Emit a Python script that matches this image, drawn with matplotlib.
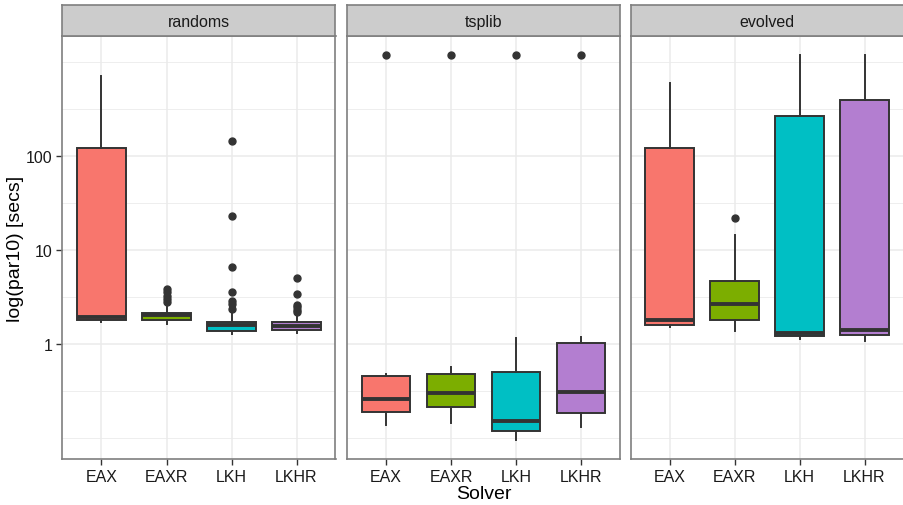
import numpy as np
import matplotlib
matplotlib.use("Agg")
import matplotlib.pyplot as plt

plt.rcParams['font.family'] = ['Liberation Sans', 'DejaVu Sans']

solvers = ["EAX", "EAXR", "LKH", "LKHR"]
panels = ["randoms", "tsplib", "evolved"]
fills = ["#F8766D", "#7CAE00", "#00BFC4", "#B37ED0"]

# box statistics per panel (seconds)
rand_lo  = [1.71, 1.63, 1.28, 1.30]
rand_q1  = [1.81, 1.80, 1.38, 1.41]
rand_med = [1.94, 2.02, 1.59, 1.55]
rand_q3  = [121.6, 2.14, 1.73, 1.70]
rand_hi  = [715.0, 2.5, 2.2, 2.1]
rand_out = [[], [3.85, 3.55, 3.25, 3.0, 2.8],
            [145.0, 23.2, 6.55, 3.55, 2.89, 2.66, 2.36],
            [5.0, 3.4, 2.6, 2.45, 2.3, 2.2]]

tsp_lo  = [0.139, 0.143, 0.096, 0.13]
tsp_q1  = [0.1875, 0.215, 0.12, 0.185]
tsp_med = [0.26, 0.30, 0.15, 0.306]
tsp_q3  = [0.453, 0.48, 0.50, 1.02]
tsp_hi  = [0.48, 0.574, 1.15, 1.18]
tsp_out = [[1196.0], [1196.0], [1196.0], [1196.0]]

evo_lo  = [1.5, 1.39, 1.13, 1.08]
evo_q1  = [1.6, 1.81, 1.23, 1.26]
evo_med = [1.8, 2.66, 1.3, 1.41]
evo_q3  = [121.6, 4.72, 268.0, 391.0]
evo_hi  = [598.0, 14.4, 1186.0, 1186.0]
evo_out = [[], [21.7], [], []]

data = [
    (rand_lo, rand_q1, rand_med, rand_q3, rand_hi, rand_out),
    (tsp_lo, tsp_q1, tsp_med, tsp_q3, tsp_hi, tsp_out),
    (evo_lo, evo_q1, evo_med, evo_q3, evo_hi, evo_out),
]

W, H = 904, 506
fig = plt.figure(figsize=(W / 100, H / 100), dpi=100)

lefts = [62.5, 347.0, 630.5]
pw = 273.0
top, bottom = 37.0, 460.0
strip_top = 6.0
edge = "#333333"
border = "#7F7F7F"

major = [1, 10, 100]
grid_all = [10 ** (k / 2) for k in range(-2, 7)]

for i, name in enumerate(panels):
    ax = fig.add_axes([lefts[i] / W, 1 - bottom / H, pw / W, (bottom - top) / H])
    lo, q1, med, q3, hi, out = data[i]
    stats = []
    for j in range(4):
        stats.append(dict(whislo=lo[j], q1=q1[j], med=med[j], q3=q3[j],
                          whishi=hi[j], fliers=out[j]))
    ax.set_yscale("log")
    ax.set_ylim(0.0598, 1892)
    ax.set_xlim(0.4, 4.6)
    # grid
    for g in grid_all:
        is_major = any(abs(g - m) < 1e-9 for m in major)
        ax.axhline(g, color="#EBEBEB", lw=1.1 if is_major else 0.6, zorder=0)
    for x in range(1, 5):
        ax.axvline(x, color="#EBEBEB", lw=1.1, zorder=0)
    bp = ax.bxp(stats, positions=[1, 2, 3, 4], widths=0.75, patch_artist=True,
                showcaps=False,
                boxprops=dict(edgecolor=edge, linewidth=1.4),
                whiskerprops=dict(color=edge, linewidth=1.4),
                medianprops=dict(color=edge, linewidth=2.8, solid_capstyle="butt"),
                flierprops=dict(marker="o", markerfacecolor=edge,
                                markeredgecolor=edge, markersize=5))
    for patch, c in zip(bp["boxes"], fills):
        patch.set_facecolor(c)
        patch.set_zorder(2)
    ax.set_xticks([1, 2, 3, 4])
    ax.set_xticklabels(solvers, fontsize=11.5, color="#1A1A1A")
    ax.minorticks_off()
    if i == 0:
        ax.set_yticks(major)
        ax.set_yticklabels(["1", "10", "100"], fontsize=11.5, color="#1A1A1A")
        ax.set_ylabel("log(par10) [secs]", fontsize=14)
        ax.yaxis.set_label_coords((24 - lefts[0]) / pw, 0.5)
    else:
        ax.set_yticks([])
    if i == 1:
        ax.set_xlabel("Solver", fontsize=14, labelpad=1)
    ax.tick_params(axis="both", length=4, width=1.0, color=edge, pad=3)
    for s in ax.spines.values():
        s.set_color(border)
        s.set_linewidth(1.2)
    # strip
    sx = fig.add_axes([lefts[i] / W, 1 - top / H, pw / W, (top - strip_top) / H])
    sx.set_facecolor("#CCCCCC")
    sx.set_xticks([])
    sx.set_yticks([])
    for s in sx.spines.values():
        s.set_color(border)
        s.set_linewidth(1.2)
    sx.text(0.5, 0.47, name, ha="center", va="center", fontsize=11.5,
            color="#1A1A1A", transform=sx.transAxes)

fig.savefig("out.png", dpi=100)
